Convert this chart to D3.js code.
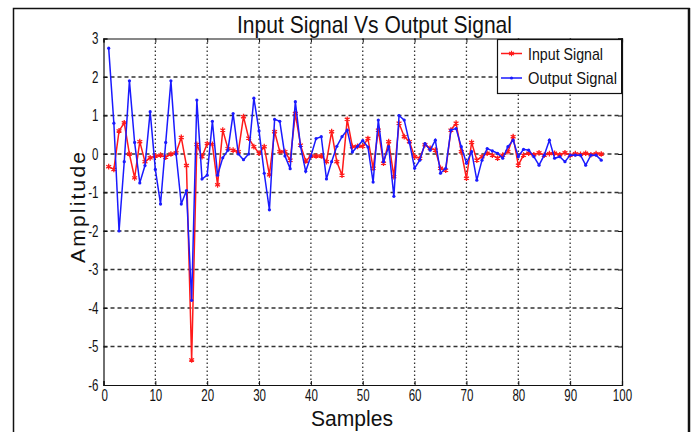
<!DOCTYPE html>
<html><head><meta charset="utf-8">
<script src="https://cdn.jsdelivr.net/npm/d3@7"></script>
<style>
html,body{margin:0;padding:0;background:#fff;}
svg{display:block;}
text{font-family:"Liberation Sans",Arial,sans-serif;fill:#111;}
</style></head>
<body>
<svg id="c" width="700" height="432"></svg>
<script>
const samples = d3.range(1, 97);
const inputSignal = [-0.33,-0.4,0.6,0.81,0.0,-0.62,0.32,-0.2,-0.1,-0.05,
 -0.03,-0.08,0.0,0.03,0.43,-0.3,-5.35,0.25,-0.07,0.27,
 0.25,-0.8,0.62,0.14,0.1,0.06,0.97,0.41,0.19,0.02,
 0.19,-0.54,0.58,0.06,0.06,-0.16,1.05,0.23,-0.18,-0.05,
 -0.05,-0.05,-0.2,0.58,-0.2,-0.55,0.9,0.19,0.2,0.2,
 0.4,-0.37,0.62,-0.24,0.32,-0.59,0.8,0.45,0.32,-0.07,
 -0.11,0.24,0.15,0.1,-0.37,-0.42,0.62,0.8,0.06,-0.63,
 0.3,-0.16,-0.07,0.02,-0.03,-0.11,-0.03,0.06,0.45,-0.29,
 -0.03,0.02,-0.02,0.03,-0.03,0.01,0.02,-0.02,0.03,-0.03,
 0.01,-0.01,0.02,-0.02,0.01,0.0];
const outputSignal = [2.75,0.8,-2.0,-0.2,1.9,0.3,-0.75,-0.3,1.1,-0.4,
 -1.3,0.3,1.9,0.0,-1.3,-0.95,-3.8,1.4,-0.65,-0.55,
 0.85,-0.55,-0.1,0.1,1.05,0.0,-0.15,0.0,1.45,0.6,
 -0.5,-1.45,0.9,0.85,-0.05,-0.38,1.36,0.2,-0.45,-0.05,
 0.4,0.45,-0.65,-0.2,0.2,0.45,0.62,0.05,0.2,0.35,
 0.18,-0.73,0.88,-0.2,0.19,-1.1,1.0,0.88,0.3,-0.37,
 -0.16,0.27,0.1,0.36,-0.5,-0.37,0.62,0.66,0.19,-0.24,
 0.06,-0.68,-0.16,0.14,0.08,0.02,-0.11,0.19,0.36,-0.07,
 0.12,0.1,-0.07,-0.29,-0.03,0.36,-0.11,-0.07,-0.2,-0.03,
 -0.03,-0.03,-0.29,-0.03,-0.03,-0.16];
const xTicks = [0,10,20,30,40,50,60,70,80,90,100];
const yTicks = [3,2,1,0,-1,-2,-3,-4,-5,-6];
const titleText = "Input Signal Vs Output Signal";
const xLabel = "Samples";
const yLabel = "Amplitude";
const seriesNames = ["Input Signal","Output Signal"];

const svg = d3.select("#c");
const L = 103.5, R = 622, T = 38.5, B = 385;
const x = d3.scaleLinear().domain([0,100]).range([L,R]);
const y = d3.scaleLinear().domain([-6,3]).range([B,T]);

// outer frame
svg.append("rect").attr("x",13.5).attr("y",8.5).attr("width",675.5).attr("height",440)
  .attr("fill","none").attr("stroke","#111").attr("stroke-width",1.5);
svg.append("line").attr("x1",689).attr("x2",689).attr("y1",8).attr("y2",432).attr("stroke","#111").attr("stroke-width",2.5);

// grid
const g = svg.append("g");
g.selectAll(".hg").data(yTicks.slice(1,-1)).join("line")
  .attr("x1",L).attr("x2",R).attr("y1",d=>y(d)).attr("y2",d=>y(d))
  .attr("stroke","#333").attr("stroke-width",1.3).attr("stroke-dasharray","4,3");
g.selectAll(".vg").data(xTicks.slice(1,-1)).join("line")
  .attr("x1",d=>x(d)).attr("x2",d=>x(d)).attr("y1",T).attr("y2",B)
  .attr("stroke","#333").attr("stroke-width",1.3).attr("stroke-dasharray","1.5,2.5");

// axes with inward ticks
const fmt = d=>String(d);
const ax = d3.axisBottom(x).tickValues(xTicks).tickSize(-4).tickPadding(4).tickFormat(fmt);
const ay = d3.axisLeft(y).tickValues(yTicks).tickSize(-4).tickPadding(5).tickFormat(fmt);
const gx = svg.append("g").attr("transform",`translate(0,${B})`).call(ax);
const gy = svg.append("g").attr("transform",`translate(${L},0)`).call(ay);
svg.append("g").attr("transform",`translate(0,${T})`).call(d3.axisTop(x).tickValues(xTicks).tickSize(-4).tickFormat(""));
svg.append("g").attr("transform",`translate(${R},0)`).call(d3.axisRight(y).tickValues(yTicks).tickSize(-4).tickFormat(""));
svg.selectAll(".domain").attr("stroke","#111").attr("stroke-width",1.2);
svg.selectAll(".tick line").attr("stroke","#111");
const sx = 0.68;
gx.selectAll("text").attr("font-size",17).attr("fill","#3a3a3a").attr("transform",`scale(${sx},1)`)
  .style("font-family","'Liberation Sans',Arial,sans-serif");
gy.selectAll("text").attr("font-size",17).attr("fill","#3a3a3a").attr("x",-5/sx).attr("transform",`scale(${sx},1)`)
  .style("font-family","'Liberation Sans',Arial,sans-serif");
gx.selectAll(".tick").filter(d=>d===0).select("text").attr("dx",1);

// data
const redData = samples.map((s,i)=>[s,inputSignal[i]]);
const blueData = samples.map((s,i)=>[s,outputSignal[i]]);
const line = d3.line().x(d=>x(d[0])).y(d=>y(d[1]));
const plot = svg.append("g");
plot.append("path").datum(redData).attr("d",line).attr("fill","none").attr("stroke","#ff1a1a").attr("stroke-width",1.5);
const star = d3.symbol().type(d3.symbolAsterisk).size(22);
plot.selectAll(".st").data(redData).join("path").attr("transform",d=>`translate(${x(d[0])},${y(d[1])})`)
  .attr("d",star).attr("fill","none").attr("stroke","#ff1a1a").attr("stroke-width",1.3);
plot.append("path").datum(blueData).attr("d",line).attr("fill","none").attr("stroke","#1a1aff").attr("stroke-width",1.5);
plot.selectAll(".dt").data(blueData).join("circle").attr("cx",d=>x(d[0])).attr("cy",d=>y(d[1])).attr("r",1.6).attr("fill","#1a1aff");

// legend
const lg = svg.append("g");
lg.append("rect").attr("x",497.5).attr("y",T+1).attr("width",R-497.5).attr("height",54)
  .attr("fill","#fff").attr("stroke","#111").attr("stroke-width",1.2);
lg.append("line").attr("x1",R).attr("x2",R).attr("y1",T).attr("y2",T+55).attr("stroke","#111").attr("stroke-width",2);
const colors = ["#ff1a1a","#1a1aff"];
const legW = [75, 89];
seriesNames.forEach((n,i)=>{
  const yy = T + 15 + i*24.5;
  lg.append("line").attr("x1",501).attr("x2",522).attr("y1",yy).attr("y2",yy).attr("stroke",colors[i]).attr("stroke-width",1.5);
  if(i===0) lg.append("path").attr("transform",`translate(511.5,${yy})`).attr("d",star).attr("fill","none").attr("stroke",colors[i]).attr("stroke-width",1.2);
  else lg.append("circle").attr("cx",511.5).attr("cy",yy).attr("r",1.6).attr("fill",colors[i]);
  lg.append("text").attr("x",528).attr("y",yy+6).attr("font-size",17).attr("fill","#222")
    .attr("textLength",legW[i]).attr("lengthAdjust","spacingAndGlyphs").text(n);
});

// titles
svg.append("text").attr("x",237).attr("y",33).attr("font-size",24)
  .attr("textLength",275).attr("lengthAdjust","spacingAndGlyphs").text(titleText);
svg.append("text").attr("x",311).attr("y",426).attr("font-size",22)
  .attr("textLength",82).attr("lengthAdjust","spacingAndGlyphs").text(xLabel);
svg.append("text").attr("transform","translate(85,263) rotate(-90)")
  .attr("font-size",21).attr("textLength",111).attr("lengthAdjust","spacing").text(yLabel);
</script>
</body></html>
